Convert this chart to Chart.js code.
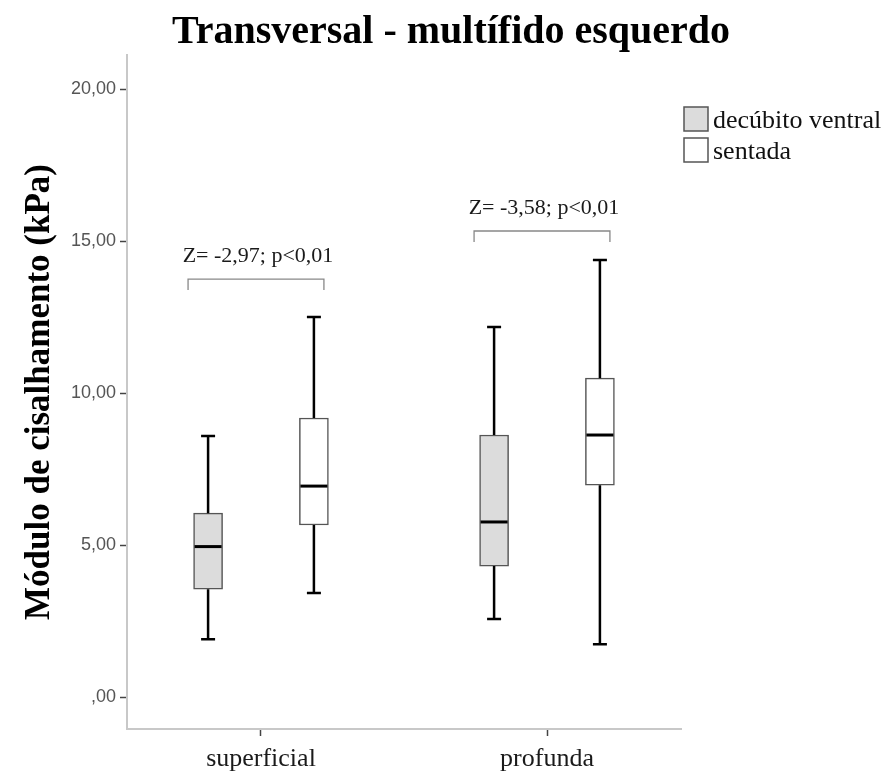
<!DOCTYPE html>
<html><head><meta charset="utf-8">
<script src="https://cdn.jsdelivr.net/npm/chart.js@4.4.1/dist/chart.umd.min.js"></script>
<style>html,body{margin:0;padding:0;background:#fff}canvas{display:block}</style>
</head><body>
<canvas id="c" width="895" height="772"></canvas>
<script>
// ---- data ----
const categories = ['superficial', 'profunda'];
const seriesNames = ['decúbito ventral', 'sentada'];
const decubitoMin    = [1.90, 2.57];
const decubitoQ1     = [3.55, 4.31];
const decubitoMedian = [4.95, 5.76];
const decubitoQ3     = [6.05, 8.62];
const decubitoMax    = [8.59, 12.17];
const sentadaMin     = [3.42, 1.74];
const sentadaQ1      = [5.66, 6.97];
const sentadaMedian  = [6.94, 8.62];
const sentadaQ3      = [9.18, 10.49];
const sentadaMax     = [12.50, 14.38];
const yTickValues = [0, 5, 10, 15, 20];
const yTickLabels = [',00', '5,00', '10,00', '15,00', '20,00'];
const testLabels = ['Z= -2,97; p<0,01', 'Z= -3,58; p<0,01'];
const testBracketLevel = [13.75, 15.33];
const chartTitle = 'Transversal - multífido esquerdo';

// ---- layout / style ----
const groupOffset = [-0.185, 0.185];
const bracketSpan = [-0.255, 0.22];
const fills = ['#dcdcdc', '#ffffff'];

function buildSeries(g, mn, q1, med, q3, mx) {
  return categories.map((c, i) => ({
    x: i + groupOffset[g], y: [q1[i], q3[i]],
    stats: {min: mn[i], q1: q1[i], med: med[i], q3: q3[i], max: mx[i]}
  }));
}

const datasets = [
  {label: seriesNames[0], data: buildSeries(0, decubitoMin, decubitoQ1, decubitoMedian, decubitoQ3, decubitoMax)},
  {label: seriesNames[1], data: buildSeries(1, sentadaMin, sentadaQ1, sentadaMedian, sentadaQ3, sentadaMax)}
].map((d, k) => Object.assign(d, {
  backgroundColor: fills[k], borderColor: '#555', borderWidth: 1.5,
  borderSkipped: false, barThickness: 29, grouped: false
}));

const boxPlugin = {
  id: 'boxwhisker',
  afterDatasetsDraw(chart) {
    const {ctx, scales: {x, y}} = chart;
    ctx.save();
    chart.data.datasets.forEach((ds, di) => {
      const meta = chart.getDatasetMeta(di);
      meta.data.forEach((bar, i) => {
        const p = bar.getProps(['x', 'width'], true);
        const s = ds.data[i].stats;
        const cx = p.x, half = p.width / 2;
        ctx.strokeStyle = '#000';
        ctx.lineWidth = 2.5;
        ctx.beginPath();
        ctx.moveTo(cx, y.getPixelForValue(s.q3)); ctx.lineTo(cx, y.getPixelForValue(s.max));
        ctx.moveTo(cx, y.getPixelForValue(s.q1)); ctx.lineTo(cx, y.getPixelForValue(s.min));
        ctx.moveTo(cx - 7, y.getPixelForValue(s.max)); ctx.lineTo(cx + 7, y.getPixelForValue(s.max));
        ctx.moveTo(cx - 7, y.getPixelForValue(s.min)); ctx.lineTo(cx + 7, y.getPixelForValue(s.min));
        ctx.stroke();
        ctx.lineWidth = 3;
        ctx.beginPath();
        ctx.moveTo(cx - half + 1, y.getPixelForValue(s.med)); ctx.lineTo(cx + half - 1, y.getPixelForValue(s.med));
        ctx.stroke();
      });
    });
    // significance brackets
    categories.forEach((c, i) => {
      const xl = x.getPixelForValue(i + bracketSpan[0]);
      const xr = x.getPixelForValue(i + bracketSpan[1]);
      const yb = y.getPixelForValue(testBracketLevel[i]);
      ctx.strokeStyle = '#888'; ctx.lineWidth = 1.3;
      ctx.beginPath();
      ctx.moveTo(xl, yb + 11); ctx.lineTo(xl, yb); ctx.lineTo(xr, yb); ctx.lineTo(xr, yb + 11);
      ctx.stroke();
      ctx.fillStyle = '#1a1a1a';
      ctx.font = '22px "Liberation Serif"';
      ctx.textAlign = 'center'; ctx.textBaseline = 'alphabetic';
      ctx.fillText(testLabels[i], (xl + xr) / 2 + 2, yb - 17);
    });
    ctx.restore();
  },
  afterDraw(chart) {
    const {ctx} = chart;
    ctx.save();
    // title
    ctx.fillStyle = '#000';
    ctx.font = 'bold 40px "Liberation Serif"';
    ctx.textAlign = 'center'; ctx.textBaseline = 'alphabetic';
    ctx.fillText(chartTitle, 451, 43);
    // legend
    chart.data.datasets.forEach((ds, k) => {
      const bx = 684, by = 107 + k * 31;
      ctx.fillStyle = ds.backgroundColor;
      ctx.fillRect(bx, by, 24, 24);
      ctx.strokeStyle = '#555'; ctx.lineWidth = 1.5;
      ctx.strokeRect(bx, by, 24, 24);
      ctx.fillStyle = '#111';
      ctx.font = '26px "Liberation Serif"';
      ctx.textAlign = 'left'; ctx.textBaseline = 'alphabetic';
      ctx.fillText(ds.label, bx + 29, by + 21);
    });
    ctx.restore();
  }
};

Chart.defaults.font.family = '"Liberation Serif"';
new Chart(document.getElementById('c'), {
  type: 'bar',
  data: {datasets},
  plugins: [boxPlugin],
  options: {
    responsive: false, animation: false, devicePixelRatio: 1,
    layout: {padding: {left: 0, right: 214, top: 55, bottom: 0}},
    plugins: {
      legend: {display: false}, tooltip: {enabled: false}, title: {display: false}
    },
    scales: {
      x: {
        type: 'linear', min: -0.4685, max: 1.4685, offset: false,
        afterBuildTicks: s => { s.ticks = categories.map((c, i) => ({value: i})); },
        afterFit: s => { s.height = 43; },
        grid: {display: true, drawOnChartArea: false, offset: false, tickLength: 7, tickColor: '#444', tickWidth: 1.5},
        border: {display: true, color: '#c8c8c8', width: 2},
        ticks: {callback: (v, i) => categories[i], color: '#1a1a1a', padding: 8,
          font: {family: '"Liberation Serif"', size: 26}, maxRotation: 0, autoSkip: false}
      },
      y: {
        type: 'linear', min: -1.05, max: 21.12,
        afterBuildTicks: s => { s.ticks = yTickValues.map(v => ({value: v})); },
        afterFit: s => { s.width = 127; },
        grid: {display: true, drawOnChartArea: false, tickLength: 7, tickColor: '#444', tickWidth: 1.5},
        border: {display: true, color: '#c8c8c8', width: 2},
        ticks: {callback: (v, i) => yTickLabels[i], color: '#555', padding: 4,
          font: {family: '"Liberation Sans"', size: 18}},
        title: {display: true, text: 'Módulo de cisalhamento (kPa)', color: '#000',
          font: {family: '"Liberation Serif"', size: 35, weight: 'bold', lineHeight: 1.2},
          padding: {top: 19, bottom: 0}}
      }
    }
  }
});
</script>
</body></html>
